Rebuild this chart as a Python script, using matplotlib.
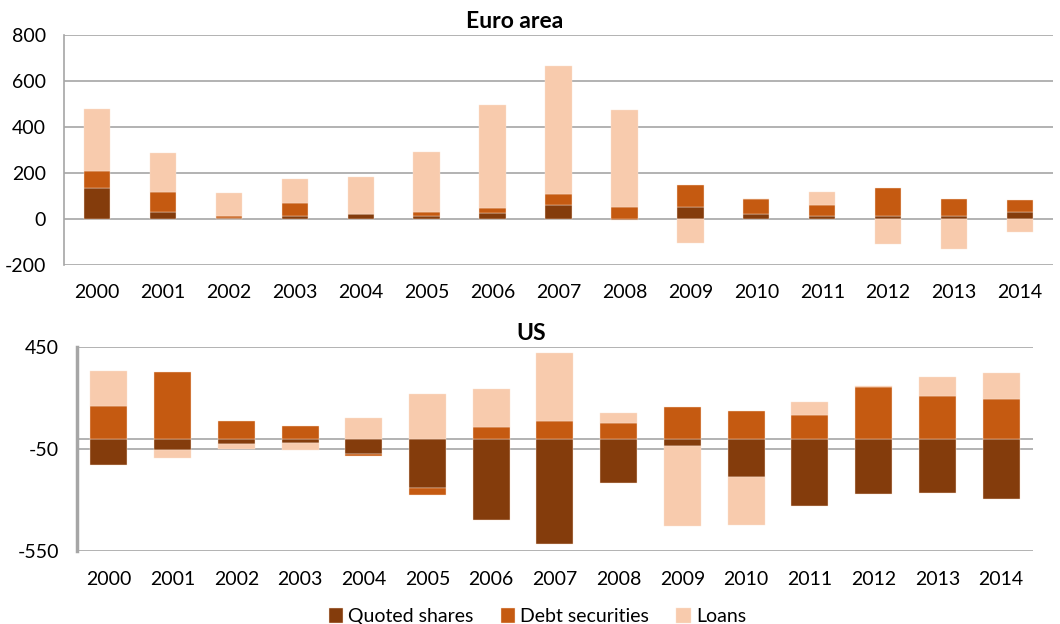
import numpy as np
import matplotlib
matplotlib.use("Agg")
import matplotlib.pyplot as plt

plt.rcParams['font.family'] = ['Lato', 'DejaVu Sans']

years = [str(y) for y in range(2000, 2015)]
series = ['Quoted shares', 'Debt securities', 'Loans']
colors = ['#843C0C', '#C55A11', '#F8CBAD']

# Euro area
ea_shares = [132, 28, 3, 13, 20, 13, 23, 61, -7, 51, 22, 13, 12, 12, 30]
ea_debt = [78, 88, 11, 57, 2, 16, 26, 48, 51, 96, 62, 47, 123, 74, 51]
ea_loans = [269, 170, 98, 103, 161, 261, 446, 556, 421, -106, 0, 56, -109, -132, -58]

# US
us_shares = [-127, -51, -23, -21, -72, -240, -395, -516, -216, -36, -188, -327, -268, -265, -292]
us_debt = [163, 330, 88, 65, -13, -35, 59, 87, 80, 157, 137, 116, 255, 211, 199]
us_loans = [172, -44, -26, -33, 105, 221, 189, 333, 49, -389, -235, 67, 6, 95, 123]

grid_col = '#A6A6A6'


def stacked(ax, data, width):
    x = np.arange(len(years))
    pos = np.zeros(len(years))
    neg = np.zeros(len(years))
    for vals, col, name in zip(data, colors, series):
        vals = np.array(vals, dtype=float)
        bottom = np.where(vals >= 0, pos, neg)
        ax.bar(x, vals, width, bottom=bottom, color=col, label=name,
               edgecolor='#FBE3D3', linewidth=0.3, zorder=3)
        pos = pos + np.where(vals >= 0, vals, 0)
        neg = neg + np.where(vals < 0, vals, 0)
    ax.set_xticks(x)
    ax.set_xticklabels(years)
    ax.set_xlim(-0.5, len(years) - 0.5)
    for s in ['top', 'right', 'bottom']:
        ax.spines[s].set_visible(False)
    ax.tick_params(length=0, labelsize=14)
    ax.tick_params(axis='y', pad=13)
    ax.tick_params(axis='x', pad=14)


fig = plt.figure(figsize=(10.6, 6.24), dpi=100)

ax1 = fig.add_axes([0.0604, 0.5758, 0.933, 0.3681])
stacked(ax1, [ea_shares, ea_debt, ea_loans], 0.4)
ax1.set_ylim(-200, 800)
ax1.set_yticks([-200, 0, 200, 400, 600, 800])
ax1.set_yticklabels(['-200', '0', '200', '400', '600', '800'])
ax1.yaxis.grid(True, color=grid_col, linewidth=1.2, zorder=0)
ax1.set_axisbelow(True)
ax1.spines['left'].set_color(grid_col)
ax1.spines['left'].set_linewidth(1.2)
ax1.set_title('Euro area', fontsize=16.5, fontweight='bold', pad=5, x=0.456)

ax2 = fig.add_axes([0.0726, 0.1165, 0.9019, 0.3269])
stacked(ax2, [us_shares, us_debt, us_loans], 0.58)
ax2.set_ylim(-550, 450)
ax2.set_yticks([-550, -50, 450])
ax2.set_yticklabels(['-550', '-50', '450'])
ax2.yaxis.grid(True, color=grid_col, linewidth=1.2, zorder=0)
ax2.axhline(0, color=grid_col, linewidth=1.2, zorder=1)
ax2.set_axisbelow(True)
ax2.spines['left'].set_color(grid_col)
ax2.spines['left'].set_linewidth(2.5)
ax2.set_title('US', fontsize=16.5, fontweight='bold', pad=5, x=0.475)

handles, labels = ax2.get_legend_handles_labels()
fig.legend(handles, labels, loc='lower center', bbox_to_anchor=(0.507, -0.03),
           ncol=3, frameon=False, fontsize=14, handlelength=0.75,
           handleheight=0.75, handletextpad=0.25, columnspacing=1.4)

fig.savefig('out.png', dpi=100)
